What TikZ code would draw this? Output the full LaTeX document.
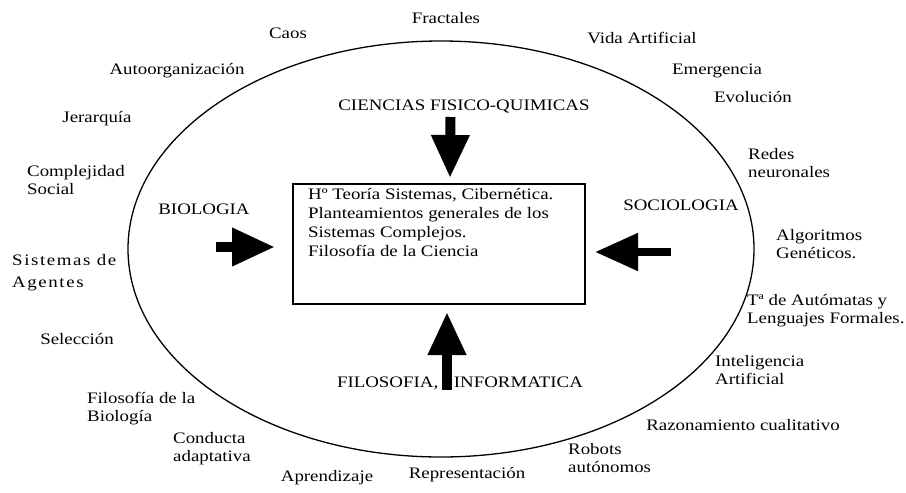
\documentclass[tikz,border=0pt]{standalone}
\usepackage{fontspec}
\setmainfont{Liberation Serif}[FakeStretch=1.18]
\newfontfamily\agfont{Liberation Serif}[FakeStretch=1.18,LetterSpace=10]
\usetikzlibrary{arrows.meta}
\begin{document}
\begin{tikzpicture}[x=1pt,y=-1pt,
  lbl/.style={inner sep=0pt, font=\fontsize{16}{18}\selectfont},
  ml/.style={lbl, align=left, anchor=west},
  blockarrow/.style={line width=#1, -{Triangle[width=36pt,length=43pt]}}]
\useasboundingbox (0,0) rectangle (906,493);
\draw[line width=1.3pt] (441,249) ellipse [x radius=313, y radius=208];
\node[draw, line width=1.3pt, minimum width=292pt, minimum height=120pt, inner sep=0pt] (box) at (439,244) {};
\node[ml, font=\fontsize{16}{19}\selectfont] (boxtext) at (308,223) {Hº Teoría Sistemas, Cibernética.\\Planteamientos generales de los\\Sistemas Complejos.\\Filosofía de la Ciencia};

% block arrows
\coordinate (aS1) at (450.5,117); \coordinate (aT1) at (450,178);
\coordinate (aS2) at (216,247);   \coordinate (aT2) at (275,247);
\coordinate (aS3) at (671,252);   \coordinate (aT3) at (595,252);
\coordinate (aS4) at (447,390);   \coordinate (aT4) at (447,312);
\draw[blockarrow=10pt] (aS1) -- (aT1);
\draw[blockarrow=10pt] (aS2) -- (aT2);
\draw[blockarrow=8pt] (aS3) -- (aT3);
\draw[blockarrow=10pt] (aS4) -- (aT4);

% discipline labels
\node[lbl] (cfq) at (464,106) {CIENCIAS FISICO-QUIMICAS};
\node[lbl] (bio) at (204,209) {BIOLOGIA};
\node[lbl] (soc) at (681,205) {SOCIOLOGIA};
\node[lbl] (fin) at (460,383) {FILOSOFIA,\hspace{11pt} INFORMATICA};

% outer labels
\node[lbl] (fract) at (446,18) {Fractales};
\node[lbl] (caos) at (288,33) {Caos};
\node[lbl] (auto) at (177,71) {Autoorganización};
\node[lbl] (jer) at (97,119) {Jerarquía};
\node[ml] (comp) at (27,180) {Complejidad\\Social};
\node[ml, font=\agfont\fontsize{16}{22}\selectfont] (agent) at (12,273) {Sistemas de\\Agentes};
\node[lbl] (sel) at (77,339) {Selección};
\node[ml] (filbio) at (87,409) {Filosofía de la\\Biología};
\node[ml] (cond) at (173,449) {Conducta\\adaptativa};
\node[lbl] (apr) at (327,478) {Aprendizaje};
\node[lbl] (rep) at (467,475) {Representación};
\node[ml] (rob) at (568,458) {Robots\\autónomos};
\node[lbl] (raz) at (743,425) {Razonamiento cualitativo};
\node[ml] (ia) at (715,370) {Inteligencia\\Artificial};
\node[ml] (auto2) at (747,311) {Tª de Autómatas y\\Lenguajes Formales.};
\node[ml] (alg) at (776,244) {Algoritmos\\Genéticos.};
\node[ml] (redes) at (748,163) {Redes\\neuronales};
\node[lbl] (evol) at (753,97) {Evolución};
\node[lbl] (emer) at (717,71) {Emergencia};
\node[lbl] (vida) at (642,38) {Vida Artificial};
\end{tikzpicture}
\end{document}
